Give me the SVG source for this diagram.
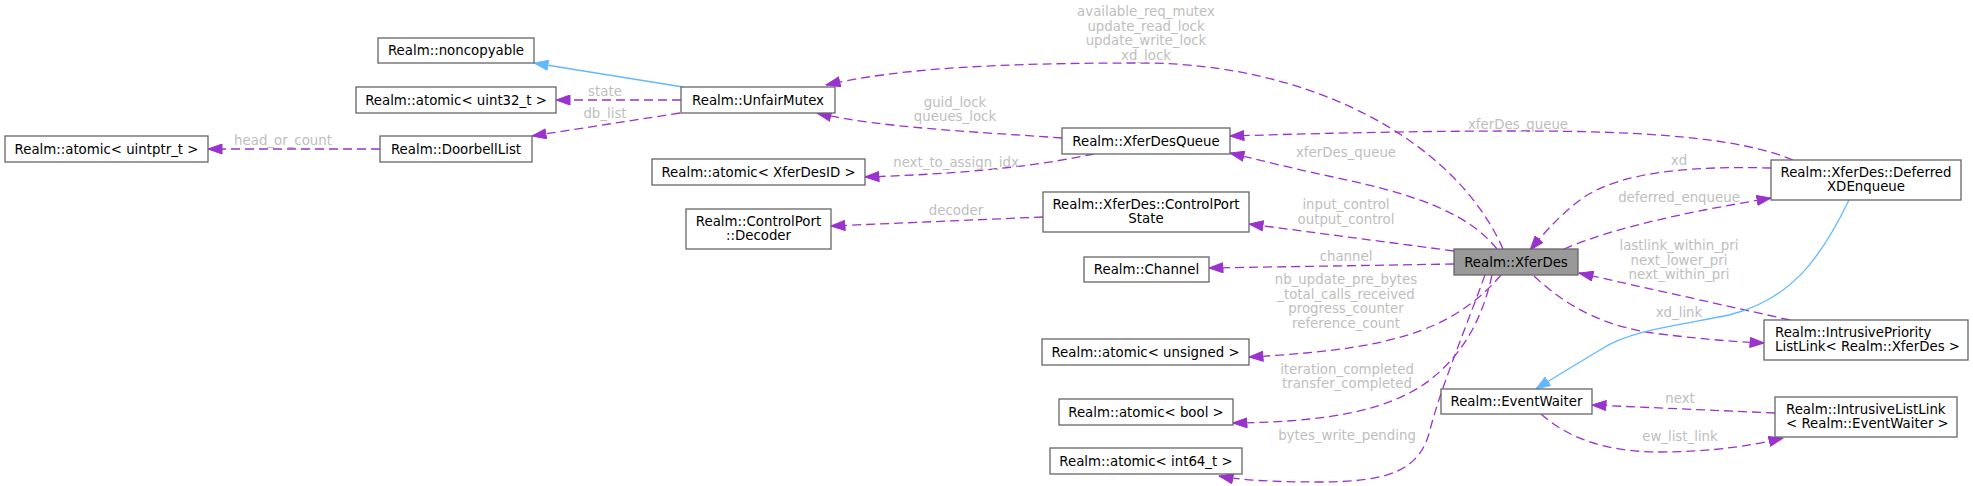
<svg xmlns="http://www.w3.org/2000/svg" width="1973" height="486" viewBox="0 0 1973 486">
<style>
.nb{fill:#ffffff;stroke:#666666;stroke-width:1.3}
.nh{fill:#999999;stroke:#666666;stroke-width:1.3}
.nt{font-family:"DejaVu Sans","Liberation Sans",sans-serif;font-size:13.33px;fill:#000000;text-anchor:middle}
.ntl{font-family:"DejaVu Sans","Liberation Sans",sans-serif;font-size:13.33px;fill:#000000;text-anchor:start}
.e{fill:none;stroke:#9A32CD;stroke-width:1.3;stroke-dasharray:9,5;marker-end:url(#ap)}
.i{fill:none;stroke:#63B8FF;stroke-width:1.3;marker-end:url(#ab)}
.lb{font-family:"DejaVu Sans","Liberation Sans",sans-serif;font-size:13.33px;fill:#BEBEBE;text-anchor:middle}
</style>
<defs>
<marker id="ap" viewBox="0 0 15 11" refX="14.5" refY="5.5" markerWidth="15" markerHeight="11" markerUnits="userSpaceOnUse" orient="auto"><path d="M0.5,0.5 L14.5,5.5 L0.5,10.5 z" fill="#9A32CD" stroke="#9A32CD" stroke-width="1"/></marker>
<marker id="ab" viewBox="0 0 15 11" refX="14.5" refY="5.5" markerWidth="15" markerHeight="11" markerUnits="userSpaceOnUse" orient="auto"><path d="M0.5,0.5 L14.5,5.5 L0.5,10.5 z" fill="#63B8FF" stroke="#63B8FF" stroke-width="1"/></marker>
</defs>
<rect x="0" y="0" width="1973" height="486" fill="#ffffff"/>
<g id="connectors">
<path class="i" d="M683,87 L534,63"/>
<path class="e" d="M681,100 L556,100"/>
<text class="lb" x="605" y="96">state</text>
<path class="e" d="M680,113 L532,136"/>
<text class="lb" x="605" y="118">db_list</text>
<path class="e" d="M380,149 L208,149"/>
<text class="lb" x="283" y="145">head_or_count</text>
<path class="e" d="M1062,138 C980,132 880,128 817,113"/>
<text class="lb" x="955" y="107">guid_lock</text>
<text class="lb" x="955" y="121">queues_lock</text>
<path class="e" d="M1094,154 C1050,163 990,173 865,177"/>
<text class="lb" x="956" y="167">next_to_assign_idx</text>
<path class="e" d="M1503,249 C1455,140 1310,63 1141,63 C1000,63 900,68 826,85"/>
<text class="lb" x="1146" y="16">available_req_mutex</text>
<text class="lb" x="1146" y="30.5">update_read_lock</text>
<text class="lb" x="1146" y="45">update_write_lock</text>
<text class="lb" x="1146" y="59.5">xd_lock</text>
<path class="e" d="M1497,249 C1470,215 1420,195 1333,177 C1290,168 1260,160 1230,153"/>
<text class="lb" x="1346" y="157">xferDes_queue</text>
<path class="e" d="M1793,160 C1740,138 1650,131 1520,131 C1400,131 1300,134 1230,136"/>
<text class="lb" x="1518" y="128.5">xferDes_queue</text>
<path class="e" d="M1043,217 L831,226"/>
<text class="lb" x="956" y="215">decoder</text>
<path class="e" d="M1454,251 L1249,224"/>
<text class="lb" x="1346" y="209">input_control</text>
<text class="lb" x="1346" y="224">output_control</text>
<path class="e" d="M1454,264 L1209,268"/>
<text class="lb" x="1346" y="261">channel</text>
<path class="e" d="M1501,275 C1450,335 1380,350 1249,357"/>
<text class="lb" x="1346" y="283.5">nb_update_pre_bytes</text>
<text class="lb" x="1346" y="298.5">_total_calls_received</text>
<text class="lb" x="1346" y="313">progress_counter</text>
<text class="lb" x="1346" y="328">reference_count</text>
<path class="e" d="M1492,275 C1480,330 1455,360 1430,380 C1390,410 1330,422 1233,423"/>
<text class="lb" x="1347" y="373.5">iteration_completed</text>
<text class="lb" x="1347" y="388">transfer_completed</text>
<path class="e" d="M1485,275 C1465,330 1440,390 1430,430 C1420,470 1390,482 1320,482 C1270,482 1240,480 1219,476"/>
<text class="lb" x="1347" y="439.5">bytes_write_pending</text>
<path class="e" d="M1771,168 C1700,166 1620,170 1580,200 C1560,215 1545,232 1530,250"/>
<text class="lb" x="1679" y="165">xd</text>
<path class="e" d="M1564,249 C1620,225 1700,210 1771,198"/>
<text class="lb" x="1679" y="201.5">deferred_enqueue</text>
<path class="e" d="M1790,320 L1579,273"/>
<text class="lb" x="1679" y="249.5">lastlink_within_pri</text>
<text class="lb" x="1679" y="264.5">next_lower_pri</text>
<text class="lb" x="1679" y="278.5">next_within_pri</text>
<path class="e" d="M1534,276 C1570,310 1610,328 1660,334 C1710,340 1740,342 1764,343"/>
<text class="lb" x="1679" y="317">xd_link</text>
<path class="i" d="M1849,200 C1820,260 1790,300 1729,315 C1680,325 1630,330 1600,350 C1570,368 1550,380 1536,389"/>
<path class="e" d="M1775,413 L1592,405"/>
<text class="lb" x="1680" y="403">next</text>
<path class="e" d="M1541,414 C1570,440 1610,452 1660,452 C1710,452 1750,446 1783,438"/>
<text class="lb" x="1680" y="441">ew_list_link</text>
</g>
<g id="n_noncopyable"><rect class="nb" x="378" y="38" width="156" height="25"/><text class="nt" x="456" y="55">Realm::noncopyable</text></g>
<g id="n_atomic_uint32"><rect class="nb" x="356" y="87" width="200" height="26"/><text class="nt" x="456" y="104.5">Realm::atomic&lt; uint32_t &gt;</text></g>
<g id="n_doorbelllist"><rect class="nb" x="380" y="136" width="152" height="26"/><text class="nt" x="456" y="153.5">Realm::DoorbellList</text></g>
<g id="n_atomic_uintptr"><rect class="nb" x="5" y="136" width="203" height="26"/><text class="nt" x="106.5" y="153.5">Realm::atomic&lt; uintptr_t &gt;</text></g>
<g id="n_unfairmutex"><rect class="nb" x="681" y="87" width="154" height="26"/><text class="nt" x="758" y="104.5">Realm::UnfairMutex</text></g>
<g id="n_atomic_xferdesid"><rect class="nb" x="652" y="159" width="213" height="26"/><text class="nt" x="758.5" y="176.5">Realm::atomic&lt; XferDesID &gt;</text></g>
<g id="n_decoder"><rect class="nb" x="686" y="209" width="145" height="40"/><text class="nt" x="758.5" y="225.5">Realm::ControlPort</text><text class="nt" x="758.5" y="240">::Decoder</text></g>
<g id="n_xferdesqueue"><rect class="nb" x="1062" y="128" width="168" height="26"/><text class="nt" x="1146" y="145.5">Realm::XferDesQueue</text></g>
<g id="n_controlportstate"><rect class="nb" x="1043" y="192" width="206" height="40"/><text class="nt" x="1146" y="208.5">Realm::XferDes::ControlPort</text><text class="nt" x="1146" y="223">State</text></g>
<g id="n_channel"><rect class="nb" x="1084" y="257" width="125" height="25"/><text class="nt" x="1146.5" y="274">Realm::Channel</text></g>
<g id="n_atomic_unsigned"><rect class="nb" x="1042" y="339" width="207" height="26"/><text class="nt" x="1145.5" y="356.5">Realm::atomic&lt; unsigned &gt;</text></g>
<g id="n_atomic_bool"><rect class="nb" x="1059" y="399" width="174" height="26"/><text class="nt" x="1146" y="416.5">Realm::atomic&lt; bool &gt;</text></g>
<g id="n_atomic_int64"><rect class="nb" x="1050" y="448" width="192" height="26"/><text class="nt" x="1146" y="465.5">Realm::atomic&lt; int64_t &gt;</text></g>
<g id="n_xferdes"><rect class="nh" x="1454" y="249" width="124" height="26"/><text class="nt" x="1516" y="266.5">Realm::XferDes</text></g>
<g id="n_eventwaiter"><rect class="nb" x="1441" y="389" width="151" height="25"/><text class="nt" x="1516.5" y="406">Realm::EventWaiter</text></g>
<g id="n_deferred"><rect class="nb" x="1771" y="160" width="190" height="40"/><text class="nt" x="1866" y="176.5">Realm::XferDes::Deferred</text><text class="nt" x="1866" y="191">XDEnqueue</text></g>
<g id="n_intrusiveprioritylistlink"><rect class="nb" x="1764" y="320" width="204" height="40"/><text class="ntl" x="1775" y="336.5">Realm::IntrusivePriority</text><text class="ntl" x="1775" y="351">ListLink&lt; Realm::XferDes &gt;</text></g>
<g id="n_intrusivelistlink"><rect class="nb" x="1775" y="397" width="182" height="40"/><text class="ntl" x="1786" y="413.5">Realm::IntrusiveListLink</text><text class="ntl" x="1786" y="428">&lt; Realm::EventWaiter &gt;</text></g>
</svg>
